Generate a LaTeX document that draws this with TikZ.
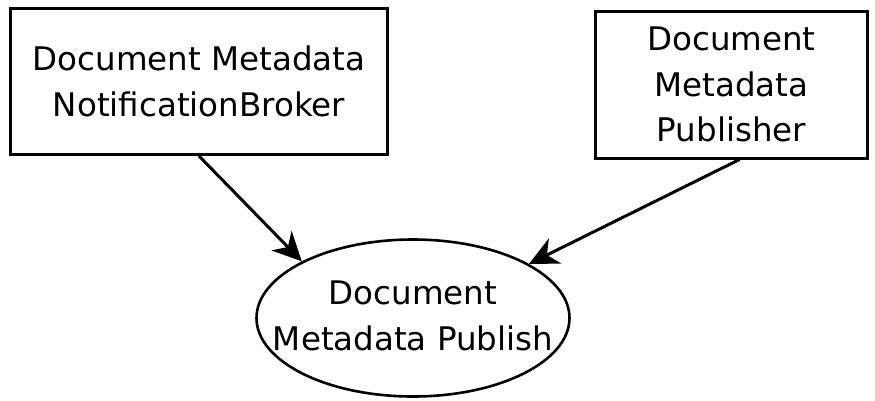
\documentclass[tikz,border=0pt]{standalone}
\usepackage{fontspec}
\setmainfont{DejaVu Sans}
\usetikzlibrary{shapes.geometric,arrows.meta,calc}
\begin{document}
\begin{tikzpicture}[x=1pt,y=-1pt,
  lbl/.style={font=\fontsize{32.5}{45.5}\selectfont,align=center,inner sep=0pt},
  box/.style={draw,line width=3pt,rectangle,inner sep=0pt,lbl},
  oval/.style={draw,line width=2.6pt,ellipse,inner sep=0pt},
  conn/.style={line width=3pt,-{Stealth[length=29pt,width=28pt,inset=9pt]}}]
\useasboundingbox (0,0) rectangle (875,400);
\node[box,minimum width=377pt,minimum height=146pt] (l) at (199,81.5) {Document Metadata\\NotificationBroker};
\node[box,minimum width=272pt,minimum height=147pt] (r) at (731.5,84.5) {Document\\Metadata\\Publisher};
\node[oval,minimum width=313pt,minimum height=157pt] (e) at (413,318) {};
\node[lbl] (et) at (413,316) {Document\\Metadata Publish};
\draw[conn] (l.south) -- (e.153.6);
\draw[conn] ($(r.south)+(8,0)$) -- (e.25.6);
\end{tikzpicture}
\end{document}
